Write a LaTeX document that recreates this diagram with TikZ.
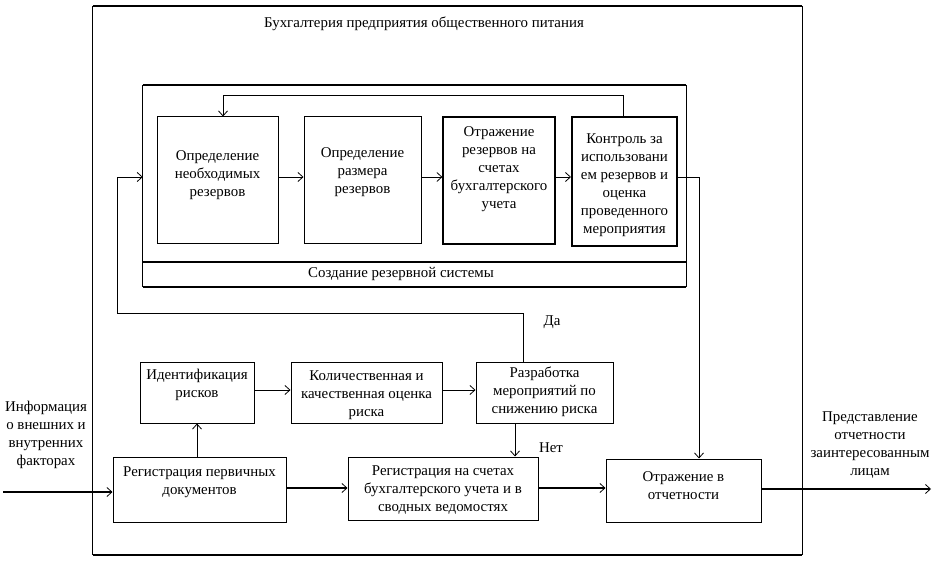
\documentclass[tikz,border=0pt]{standalone}
\usepackage{fontspec}
\setmainfont{Liberation Serif}
\usetikzlibrary{arrows.meta}
\begin{document}
\begin{tikzpicture}[x=1pt,y=-1pt,
  box/.style={draw, line width=1pt, inner sep=0pt},
  txt/.style={align=center, font=\fontsize{14.9}{18}\selectfont, inner sep=0pt},
  arr/.style={-{Straight Barb[length=5pt,width=9pt,line width=0.8pt]}, line width=0.8pt},
  thickarr/.style={arr, line width=2.4pt},
  midarr/.style={arr, line width=1.8pt}
]
\useasboundingbox (0,0) rectangle (945,569);
% outer frame
\node[inner sep=0pt, minimum width=709pt, minimum height=549pt] (outer) at (447.5,280.5) {};
\draw[line width=2.2pt] (outer.north west) -- (outer.north east);
\draw[line width=2.2pt] (outer.south west) -- (outer.south east);
\draw[line width=1.2pt] (outer.north west) -- (outer.south west);
\draw[line width=1.4pt] (outer.north east) -- (outer.south east);
\node[txt] (title) at (424,24) {Бухгалтерия предприятия общественного питания};

% inner container
\node[inner sep=0pt, minimum width=543pt, minimum height=202pt] (inner) at (414.5,186) {};
\draw[line width=2pt] (inner.north west) -- (inner.north east);
\draw[line width=2pt] (inner.south west) -- (inner.south east);
\draw[line width=1pt] (inner.north west) -- (inner.south west);
\draw[line width=1.4pt] (inner.north east) -- (inner.south east);
\coordinate (dl) at (143,262);
\draw[line width=2pt] (dl) -- (dl -| inner.east);
\node[txt] (sys) at (401,274) {Создание резервной системы};

% inner boxes
\node[box, minimum width=121pt, minimum height=127pt] (b1) at (217.5,180.5) {};
\node[txt] at (217.5,175) {Определение\\необходимых\\резервов};
\node[box, minimum width=117pt, minimum height=127pt] (b2) at (362.5,180.5) {};
\node[txt] at (362.5,172) {Определение\\размера\\резервов};
\node[box, line width=1.2pt, minimum width=112pt, minimum height=127pt] (b3) at (499,180.5) {};
\node[txt] at (499,169) {Отражение\\резервов на\\счетах\\бухгалтерского\\учета};
\node[box, line width=2pt, minimum width=105pt, minimum height=129pt] (b4) at (624.5,181.5) {};
\node[txt] at (624.5,185) {Контроль за\\использовани\\ем резервов и\\оценка\\проведенного\\мероприятия};

\draw[arr] ([yshift=3.5pt]b1.east) -- ([yshift=3.5pt]b2.west);
\draw[arr] ([yshift=3.5pt]b2.east) -- ([yshift=3.5pt]b3.west);
\draw[arr] ([yshift=3.5pt]b3.east) -- ([yshift=4.5pt]b4.west);
\draw[arr] ([xshift=-1.5pt]b4.north) -- ++(0,-21) -| ([xshift=5.5pt]b1.north);

% bottom boxes
\node[box, minimum width=114pt, minimum height=61pt] (id) at (197,392.5) {};
\node[txt] at (197,385) {Идентификация\\рисков};
\node[box, minimum width=151pt, minimum height=61pt] (kol) at (366.5,392.5) {};
\node[txt] at (366.5,395) {Количественная и\\качественная оценка\\риска};
\node[box, minimum width=137pt, minimum height=61pt] (razr) at (544.5,392.5) {};
\node[txt] at (544.5,392) {Разработка\\мероприятий по\\снижению риска};
\node[box, minimum width=173pt, minimum height=65pt] (reg1) at (199.5,489.5) {};
\node[txt] at (199.5,482) {Регистрация первичных\\документов};
\node[box, minimum width=190pt, minimum height=63pt] (reg2) at (443,488.5) {};
\node[txt] at (443,490) {Регистрация на счетах\\бухгалтерского учета и в\\сводных ведомостях};
\node[box, minimum width=155pt, minimum height=63pt] (otr) at (683.5,490.5) {};
\node[txt] at (683.5,486) {Отражение в\\отчетности};

\draw[arr] ([yshift=2.5pt]id.east) -- ([yshift=2.5pt]kol.west);
\draw[arr] ([yshift=2.5pt]kol.east) -- ([yshift=2.5pt]razr.west);
\draw[arr] (reg1.north -| id.south) -- (id.south);
\draw[arr] ([xshift=-29.5pt]razr.south) -- ([xshift=-29.5pt]razr.south |- reg2.north);
\draw[thickarr] ([yshift=1.5pt]reg1.east) -- ([yshift=0.5pt]reg2.west);
\draw[thickarr] ([yshift=0.5pt]reg2.east) -- ([yshift=2.5pt]otr.west);

% loops
\coordinate (lp) at (117,313);
\draw[arr] ([xshift=-21.5pt]razr.north) |- (lp) |- ([yshift=9pt]inner.west);
\draw[arr] ([yshift=4.5pt]b4.east) -| ([xshift=15.5pt]otr.north);

\node[txt] (da) at (552,322) {Да};
\node[txt] (net) at (551,448) {Нет};

% input / output
\coordinate (in) at (3,492);
\draw[thickarr] (in) -- (in -| reg1.west);
\node[txt] (info) at (46,435) {Информация\\о внешних и\\внутренних\\факторах};
\coordinate (out) at (931,489);
\draw[midarr] ([yshift=1.5pt]otr.east) -- (out);
\node[txt] (pred) at (870,445) {Представление\\отчетности\\заинтересованным\\лицам};
\end{tikzpicture}
\end{document}
